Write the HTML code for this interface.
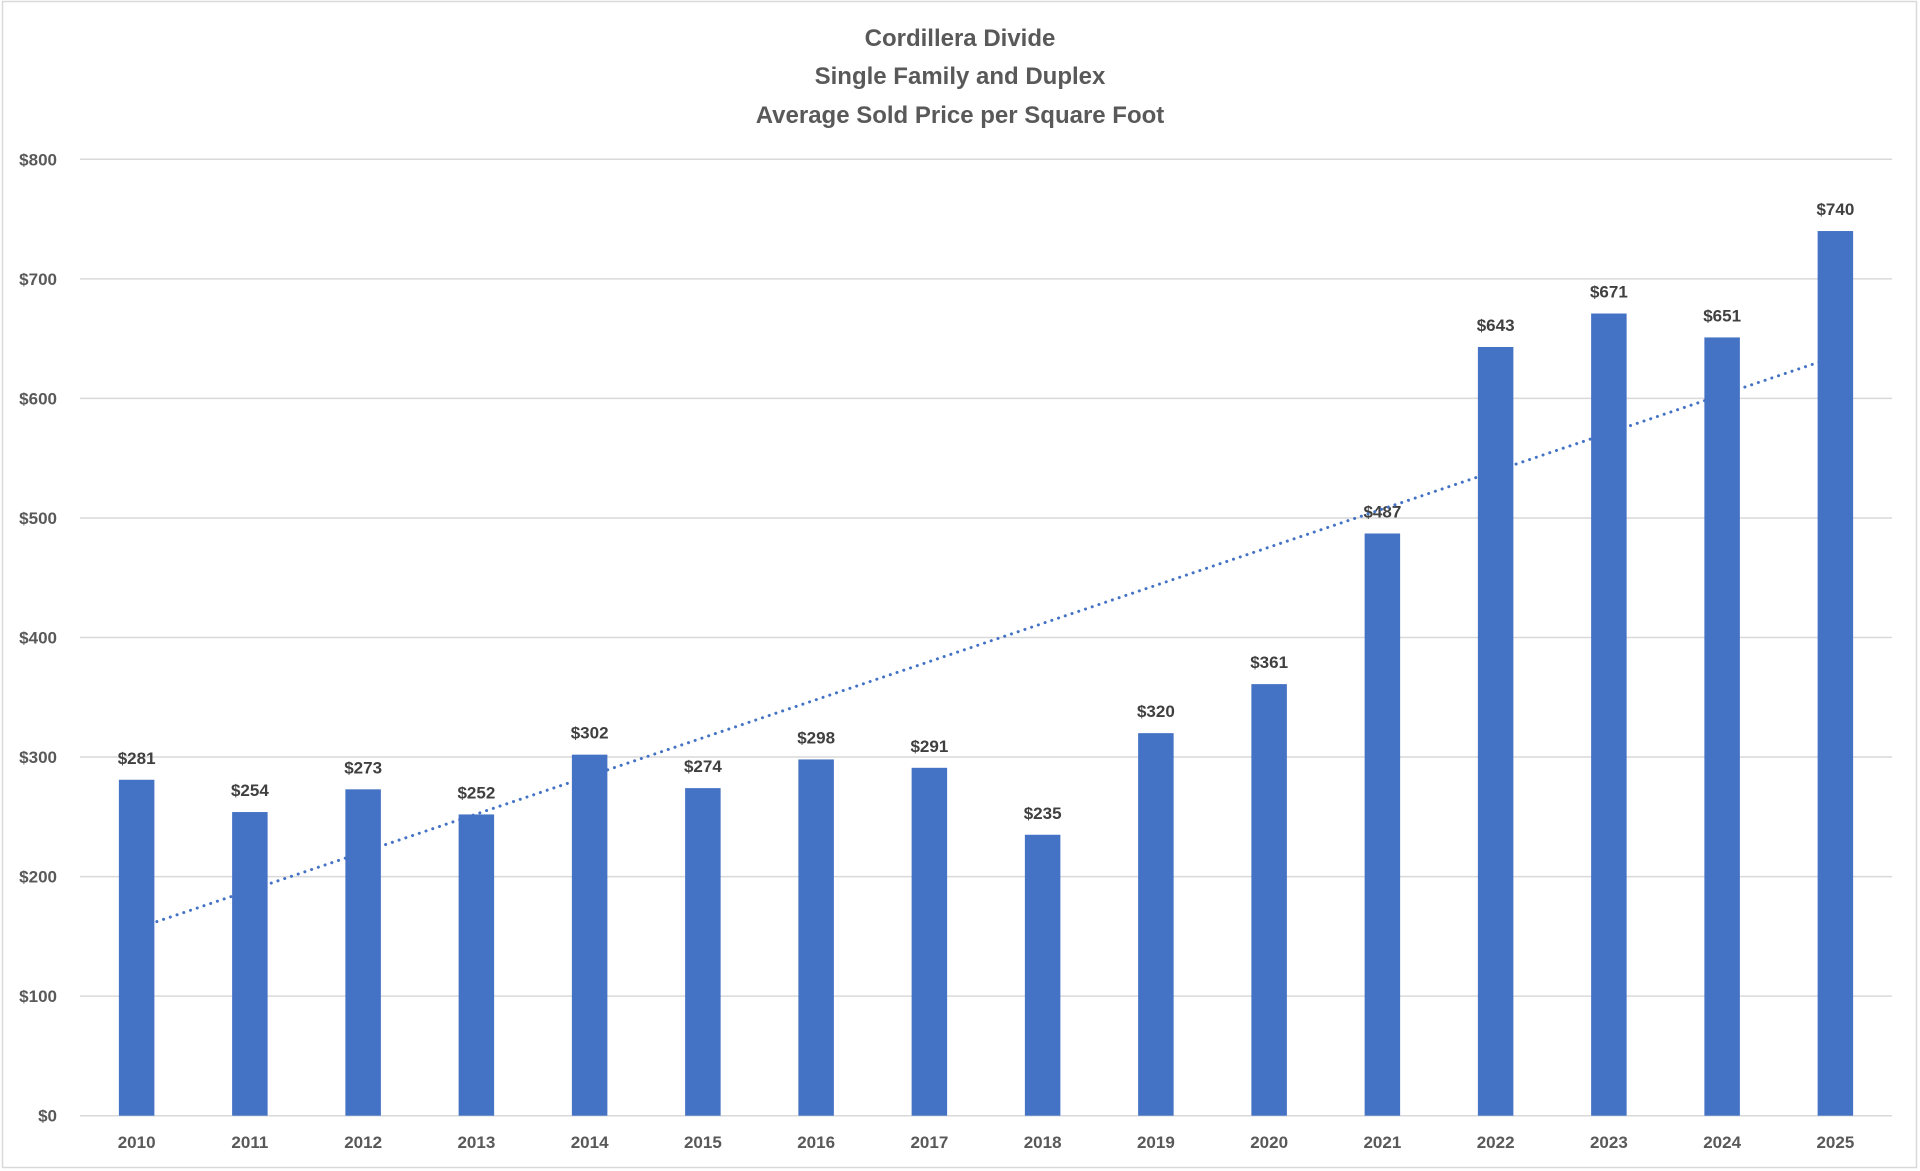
<!DOCTYPE html>
<html><head><meta charset="utf-8"><style>
html,body{margin:0;padding:0;background:#fff}
svg{display:block;font-family:"Liberation Sans",Arial,sans-serif}
</style></head><body>
<svg id="chart" width="1920" height="1171" viewBox="0 0 1920 1171">
<rect x="2.5" y="1.5" width="1914" height="1166" fill="#fff" stroke="#d9d9d9" stroke-width="1.5"/>
<g fill="#595959" font-weight="bold" font-size="24" text-anchor="middle">
<text x="960" y="46">Cordillera Divide</text>
<text x="960" y="84">Single Family and Duplex</text>
<text x="960" y="123">Average Sold Price per Square Foot</text>
</g>
<g id="grid"></g><g id="yaxis"></g><g id="bars"></g><g id="labels"></g><g id="xaxis"></g><g id="trend"></g>
</svg>
<script>
const categories=["2010","2011","2012","2013","2014","2015","2016","2017","2018","2019","2020","2021","2022","2023","2024","2025"];
const values=[281,254,273,252,302,274,298,291,235,320,361,487,643,671,651,740];
const yTicks=[0,100,200,300,400,500,600,700,800];
const yTickLabels=["$0","$100","$200","$300","$400","$500","$600","$700","$800"];
const NS="http://www.w3.org/2000/svg";
const L=80,R=1892,T=159.3,B=1115.7,yMax=800;
const band=(R-L)/categories.length, bw=35.5;
function xC(i){return L+band*(i+0.5);}
function y(v){return B-(v/yMax)*(B-T);}
function mk(tag,attrs,parent){const e=document.createElementNS(NS,tag);for(const k in attrs)e.setAttribute(k,attrs[k]);document.getElementById(parent).appendChild(e);return e;}
yTicks.forEach((t,i)=>{
  const g=mk("line",{x1:L,x2:R,y1:y(t),y2:y(t),stroke:"#d9d9d9","stroke-width":1.5},"grid");
  
  
  const tx=mk("text",{x:57,y:y(t)+6,"text-anchor":"end","font-size":17,"font-weight":"bold",fill:"#595959"},"yaxis");
  tx.textContent=yTickLabels[i];
  
  
});
categories.forEach((c,i)=>{
  const v=values[i];
  const b=mk("rect",{x:xC(i)-bw/2,y:y(v),width:bw,height:B-y(v),fill:"#4472C4"},"bars");
  
  
  const lb=mk("text",{x:xC(i),y:y(v)-16,"text-anchor":"middle","font-size":17,"font-weight":"bold",fill:"#404040"},"labels");
  lb.textContent="$"+v;
  
  
  const xl=mk("text",{x:xC(i),y:1148,"text-anchor":"middle","font-size":17,"font-weight":"bold",fill:"#595959"},"xaxis");
  xl.textContent=c;
  
  
});
const n=values.length;let sx=0,sy=0,sxy=0,sxx=0;
values.forEach((v,i)=>{sx+=i;sy+=v;sxy+=i*v;sxx+=i*i;});
const slope=(n*sxy-sx*sy)/(n*sxx-sx*sx), icpt=(sy-slope*sx)/n;
const tl=mk("line",{x1:xC(0),y1:y(icpt),x2:xC(n-1),y2:y(icpt+slope*(n-1)),stroke:"#4472C4","stroke-width":3,"stroke-dasharray":"0.1 7","stroke-linecap":"round"},"trend");


</script>
</body></html>
